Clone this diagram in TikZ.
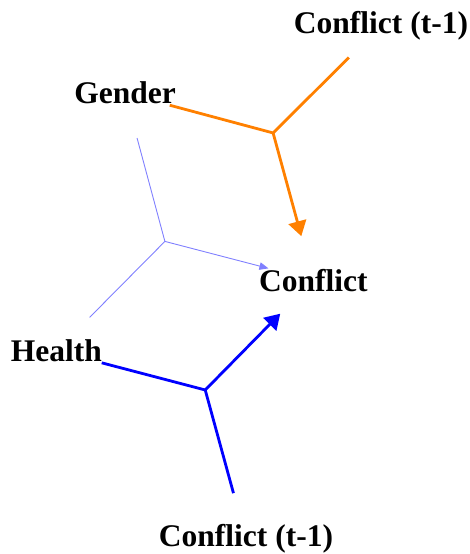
\documentclass[tikz,border=0pt]{standalone}
\usepackage{fontspec}
\setmainfont{Liberation Serif}
\usetikzlibrary{arrows.meta,calc}
\definecolor{edgeorange}{HTML}{FF8000}
\definecolor{edgelight}{HTML}{8080FF}

\begin{document}
\begin{tikzpicture}[x=1bp, y=-1bp,
    varnode/.style={inner sep=0pt, anchor=base,
                    font=\fontsize{31.5bp}{36bp}\selectfont\bfseries},
    orangeedge/.style={draw=edgeorange, line width=2.8bp},
    blueedge/.style={draw=blue, line width=2.8bp},
    lightedge/.style={draw=edgelight, line width=0.9bp},
    bigtip/.style={-{Triangle[length=15bp, width=18bp]}},
    smalltip/.style={-{Triangle[length=9bp, width=7.5bp]}}]
\useasboundingbox (0,0) rectangle (470,554);

\node[varnode] (prevtop) at (381,33.3) {Conflict (t-1)};
\node[varnode] (gender) at (125,104) {Gender};
\node[varnode] (conflict) at (313.3,291) {Conflict};
\node[varnode] (health) at (56.4,361.7) {Health};
\node[varnode] (prevbot) at (246,546.7) {Conflict (t-1)};

% hyperedge junctions sit at the centroid of their three nodes
\coordinate (jo) at ($0.333333*(gender)+0.333333*(prevtop)+0.333333*(conflict)$);
\coordinate (jl) at ($0.333333*(gender)+0.333333*(health)+0.333333*(conflict)$);
\coordinate (jb) at ($0.333333*(health)+0.333333*(prevbot)+0.333333*(conflict)$);

\draw[lightedge] ($(jl)!107bp!(gender)$) -- (jl) -- ($(jl)!107bp!(health)$);
\draw[lightedge, smalltip] (jl) -- ($(jl)!107bp!(conflict)$);

\draw[orangeedge] ($(jo)!107bp!(gender)$) -- (jo) -- ($(jo)!107bp!(prevtop)$);
\draw[orangeedge, bigtip] (jo) -- ($(jo)!107bp!(conflict)$);

\draw[blueedge] ($(jb)!107bp!(health)$) -- (jb) -- ($(jb)!107bp!(prevbot)$);
\draw[blueedge, bigtip] (jb) -- ($(jb)!107bp!(conflict)$);
\end{tikzpicture}
\end{document}
